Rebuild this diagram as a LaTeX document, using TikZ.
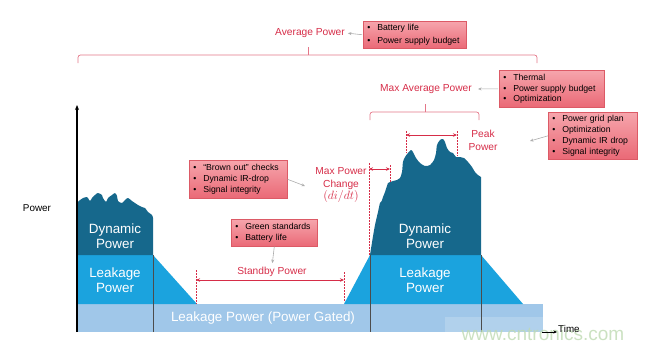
\documentclass[tikz,border=0pt]{standalone}
\usepackage{fontspec}
\setmainfont{Liberation Sans}
\usetikzlibrary{arrows.meta}
\definecolor{dyn}{RGB}{22,104,140}
\definecolor{leak}{RGB}{27,163,222}
\definecolor{band}{RGB}{160,199,233}
\definecolor{lab}{RGB}{214,45,72}
\definecolor{boxtop}{RGB}{246,165,172}
\definecolor{boxbot}{RGB}{234,105,118}
\definecolor{boxline}{RGB}{220,90,102}
\definecolor{wmark}{RGB}{190,218,178}
\newcommand{\myitem}{\makebox[10pt][l]{\textbullet}}
\begin{document}
\begin{tikzpicture}[x=1pt,y=-1pt,
  note/.style={draw=boxline, line width=0.6pt, top color=boxtop, bottom color=boxbot,
    anchor=north west, inner xsep=4pt, inner ysep=1pt, align=left,
    font=\fontsize{8.7}{10.8}\selectfont, text=black},
  redlab/.style={text=lab, font=\fontsize{10.2}{12.8}\selectfont, align=center, inner sep=1pt},
  whitelab/.style={text=white, font=\fontsize{13.4}{15.5}\selectfont, align=center},
  garrow/.style={draw=gray!65, line width=0.6pt, -{Stealth[length=3.5pt,width=3pt]}},
  dimarrow/.style={draw=lab, line width=0.8pt, {Stealth[length=4pt,width=3.5pt]}-{Stealth[length=4pt,width=3.5pt]}},
  dimline/.style={draw=lab, line width=0.7pt, dash pattern=on 1.6pt off 1.4pt},
  sepline/.style={draw=gray!60!black, line width=0.7pt},
  brace/.style={draw=lab!65, line width=0.7pt, rounded corners=2.5pt}
]
\useasboundingbox (0,0) rectangle (645,349);

% bottom band
\fill[band] (77,304) rectangle (543,332);
% watermark backing
\fill[white, opacity=0.18] (445,317) rectangle (543,332);
\node[whitelab] (lpg) at (263,318) {Leakage Power (Power Gated)};

% left block
\fill[leak] (77,255) -- (153,255) -- (197,304) -- (77,304) -- cycle;
\fill[dyn] (77,255) -- plot[smooth, tension=0.5] coordinates {(77,203) (80,200) (83,198) (87,197) (88,198) (90,201) (92,198) (95,195) (98,193) (102,195) (103,198) (106,202) (108,198) (112,195) (115,193) (117,196) (118,201) (122,203) (125,200) (128,198) (132,201) (135,203) (138,205) (142,207) (145,208) (148,212) (152,215) (153,218)} -- (153,255) -- cycle;

% right block
\fill[leak] (344,304) -- (370,255) -- (481,255) -- (523,304) -- cycle;
\fill[dyn] (370,255) -- plot[smooth, tension=0.5] coordinates {(372.7,238) (375,225) (378,212) (380,203) (381.7,201) (383,197) (385,192) (388,183) (390,182) (393,181) (397,180) (400,178) (402,172) (403,162) (405,157) (408,153) (411,150) (413,152) (416,158) (420,163) (425,166) (430,165) (434,160) (436,153) (437,145) (440,140) (443,139) (445,142) (447,148) (450,152) (453,153) (456,157) (460,157) (464,158) (468,162) (472,167) (475,172) (478,175) (481,177)} -- (481,255) -- cycle;

% separators
\draw[sepline] (153,255) -- (153,332);
\draw[sepline] (370,255) -- (370,332);
\draw[sepline] (481,255) -- (481,332);

% block labels
\node[whitelab] (dynL) at (115,236) {Dynamic\\Power};
\node[whitelab] (leakL) at (115,280) {Leakage\\Power};
\node[whitelab] (dynR) at (425,236) {Dynamic\\Power};
\node[whitelab] (leakR) at (425,280) {Leakage\\Power};

% watermark
\node[text=wmark, font=\fontsize{19}{20}\selectfont, opacity=0.8] (wm) at (543,334) {www.cntronics.com};

% axes
\coordinate (origin) at (77,332);
\coordinate (ytop) at (77,105);
\draw[line width=1.4pt, -{Stealth[length=5pt,width=4pt]}] (origin) -- (ytop);
\node[font=\fontsize{9.8}{12}\selectfont, anchor=west, inner sep=1pt] (time) at (557,329) {Time};
\coordinate (t0) at (542,332);
\draw[line width=0.6pt, -{Stealth[length=3.5pt,width=3pt]}] (t0) -- (time.west |- t0);
\node[font=\fontsize{9.9}{12}\selectfont] (powerlab) at (37,208) {Power};

% average power
\node[redlab] (avg) at (310,33) {Average Power};
\node[note, minimum width=103pt, minimum height=27pt, text width=95pt, font=\fontsize{8.7}{12.5}\selectfont] (bat) at (363,21) {\myitem Battery life\\\myitem Power supply budget};
\draw[garrow, shorten <=1pt, shorten >=2pt] (bat.west) -- (avg.east);
\draw[brace] (78,63) |- (537,55) -- (537,63);
\draw[brace] (308,55) -- (308,47);

% max average power
\node[redlab] (maxavg) at (426,89) {Max Average Power};
\node[note, minimum width=105pt, minimum height=37pt, text width=97pt] (thermal) at (499,70) {\myitem Thermal\\\myitem Power supply budget\\\myitem Optimization};
\draw[garrow, shorten <=1pt, shorten >=5pt] (thermal.west) -- (maxavg.east);
\draw[brace] (370,120) |- (479,112) -- (479,120);
\draw[brace] (425,112) -- (425,104);

% peak power
\draw[dimline] (406,131) -- (406,153);
\draw[dimline] (457,131) -- (457,156);
\coordinate (pk1) at (406,135);
\coordinate (pk2) at (457,135);
\draw[dimarrow] (pk1) -- (pk2);
\node[redlab] (peak) at (483,140) {Peak\\Power};
\node[note, minimum width=89pt, minimum height=47pt, text width=81pt] (grid) at (548,112) {\myitem Power grid plan\\\myitem Optimization\\\myitem Dynamic IR drop\\\myitem Signal integrity};
\coordinate (gridtip) at (530,141);
\draw[garrow] (grid.west) -- (gridtip);

% max power change
\draw[dimline] (369,163) -- (369,255);
\draw[dimline] (390,165) -- (390,182);
\coordinate (mc1) at (369,169);
\coordinate (mc2) at (390,169);
\draw[dimarrow] (mc1) -- (mc2);
\node[redlab] (mpc) at (341,185) {Max Power\\Change\\\fontsize{11.5}{12.8}\selectfont$(di/dt)$};
\node[note, minimum width=98pt, minimum height=38pt, text width=90pt] (brown) at (189,160) {\myitem “Brown out” checks\\\myitem Dynamic IR-drop\\\myitem Signal integrity};
\coordinate (browntip) at (305,186);
\draw[garrow] (brown.east) -- (browntip);

% standby power
\node[note, minimum width=86pt, minimum height=27pt, text width=78pt] (green) at (231,219) {\myitem Green standards\\\myitem Battery life};
\node[redlab] (stby) at (272,272) {Standby Power};
\draw[garrow, shorten >=3pt] (green.south) -- (stby.north);
\draw[dimline] (196,270) -- (196,304);
\draw[dimline] (344,272) -- (344,302);
\coordinate (sb1) at (196,280);
\coordinate (sb2) at (344,280);
\draw[dimarrow] (sb1) -- (sb2);
\end{tikzpicture}
\end{document}
